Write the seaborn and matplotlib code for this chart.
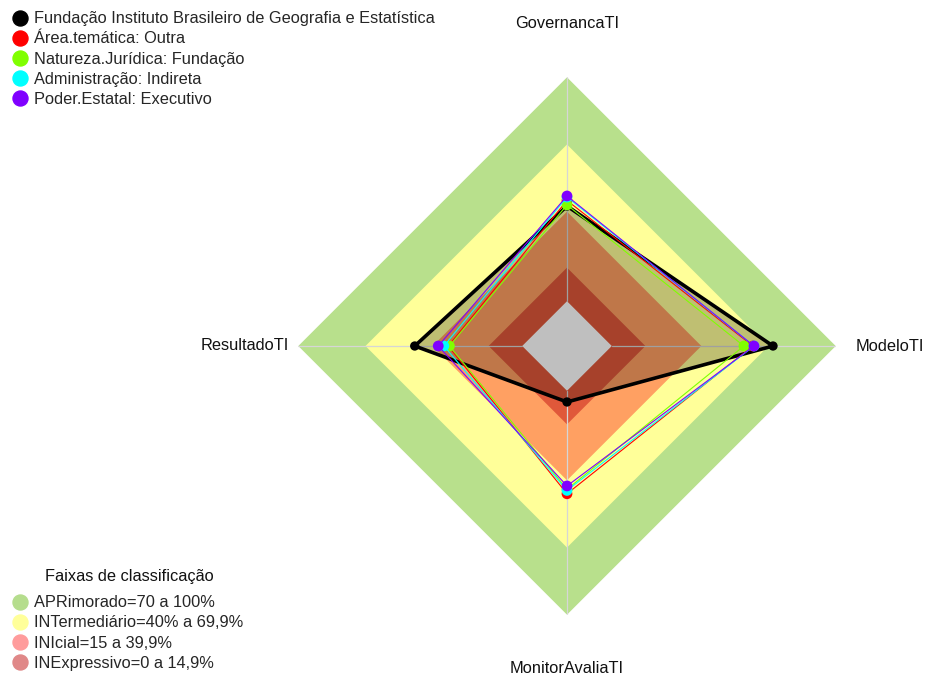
import numpy as np
import pandas as pd
import seaborn as sns
import matplotlib
matplotlib.use("Agg")
import matplotlib.pyplot as plt
from matplotlib.lines import Line2D

# ---------------- data ----------------
categories = ["GovernancaTI", "ResultadoTI", "MonitorAvaliaTI", "ModeloTI"]
series_names = [
    "Fundação Instituto Brasileiro de Geografia e Estatística",
    "Área.temática: Outra",
    "Natureza.Jurídica: Fundação",
    "Administração: Indireta",
    "Poder.Estatal: Executivo",
]
ibge = [42.5, 48, 5, 72]
area_outra = [45, 33, 46, 63]
natureza_fundacao = [43, 32.5, 44, 59]
adm_indireta = [46.5, 35, 44.5, 63.5]
poder_executivo = [47, 37.5, 42.5, 63.5]
series_values = [ibge, area_outra, natureza_fundacao, adm_indireta, poder_executivo]
series_colors = ["#000000", "#ff0000", "#80ff00", "#00ffff", "#8000ff"]

band_labels = ["APRimorado=70 a 100%", "INTermediário=40% a 69,9%",
               "INIcial=15 a 39,9%", "INExpressivo=0 a 14,9%"]
band_upper = [100, 70, 40, 15]
band_fill = ["#b8e08c", "#ffff99", "#ffa062", "#e0583a"]
band_legend_colors = ["#b5dd8d", "#ffff9a", "#ff9c9c", "#e08888"]
legend_title = "Faixas de classificação"
r_min, r_max = -20, 100

# ---------------- style ----------------
sns.set_style("white")
plt.rcParams["font.family"] = ["Liberation Sans", "DejaVu Sans"]
FS = 11.75

fig = plt.figure(figsize=(9.25, 6.8), dpi=100)
W, H = 925, 680
cx, cy, R = 567, 346, 268.7
ax = fig.add_axes([(cx - R) / W, (H - cy - R) / H, 2 * R / W, 2 * R / H],
                  projection="polar")
ax.set_theta_offset(np.pi / 2)
ax.set_theta_direction(1)

n = len(categories)
theta = np.arange(n) * 2 * np.pi / n
theta_c = np.append(theta, theta[0])

# bands
for up, col in zip(band_upper, band_fill):
    ax.fill(theta_c, [up] * (n + 1), color=col, lw=0, zorder=1)
ax.fill(theta_c, [0] * (n + 1), color="white", lw=0, zorder=1.5)

# axis lines
for t in theta:
    ax.plot([t, t], [0, r_max], color="#d6d6d6", lw=0.9, zorder=2)

# series
df = pd.DataFrame({
    "series": np.repeat(series_names, n),
    "axis": categories * len(series_names),
    "theta": np.tile(theta, len(series_names)),
    "value": np.concatenate(series_values),
})
for i, (name, col) in enumerate(zip(series_names, series_colors)):
    sub = df[df["series"] == name]
    vals = np.append(sub["value"].values, sub["value"].values[0])
    if i == 0:
        ax.fill(theta_c, vals, color="black", alpha=0.25, lw=0, zorder=3)
        ax.plot(theta_c, vals, color=col, lw=2.6, zorder=4 + i)
        sns.scatterplot(data=sub, x="theta", y="value", color=col, s=45,
                        edgecolor="none", ax=ax, zorder=4 + i, legend=False)
    else:
        ax.plot(theta_c, vals, color=col, lw=0.8, zorder=4 + i)
        sns.scatterplot(data=sub, x="theta", y="value", color=col, s=60,
                        edgecolor="none", ax=ax, zorder=4 + i, legend=False)
ax.set_ylim(r_min, r_max)
ax.axis("off")

# axis labels
for t, lab in zip(theta, categories):
    ax.text(t, 124, lab, ha="center", va="center", fontsize=FS,
            color="#111111", clip_on=False)

# series legend
h1 = [Line2D([], [], marker="o", ls="none", color=c, markersize=10.8)
      for c in series_colors]
fig.legend(h1, series_names, loc="upper left",
           bbox_to_anchor=(-4 / W, 1.0), frameon=False, fontsize=FS,
           handletextpad=0.15, handlelength=1.5,
           labelspacing=0.31, borderpad=0.3, borderaxespad=0.4)

# band legend
h2 = [Line2D([], [], marker="o", ls="none", color=c, markersize=10.8)
      for c in band_legend_colors]
fig.legend(h2, band_labels, loc="lower left",
           bbox_to_anchor=(-4 / W, -2 / H), frameon=False, fontsize=FS,
           handletextpad=0.15, handlelength=1.5,
           labelspacing=0.31, borderpad=0.3, borderaxespad=0.4)
fig.text(129 / W, 1 - 577 / H, legend_title, ha="center", va="center",
         fontsize=FS, color="#111111")

fig.savefig("out.png", dpi=100)
